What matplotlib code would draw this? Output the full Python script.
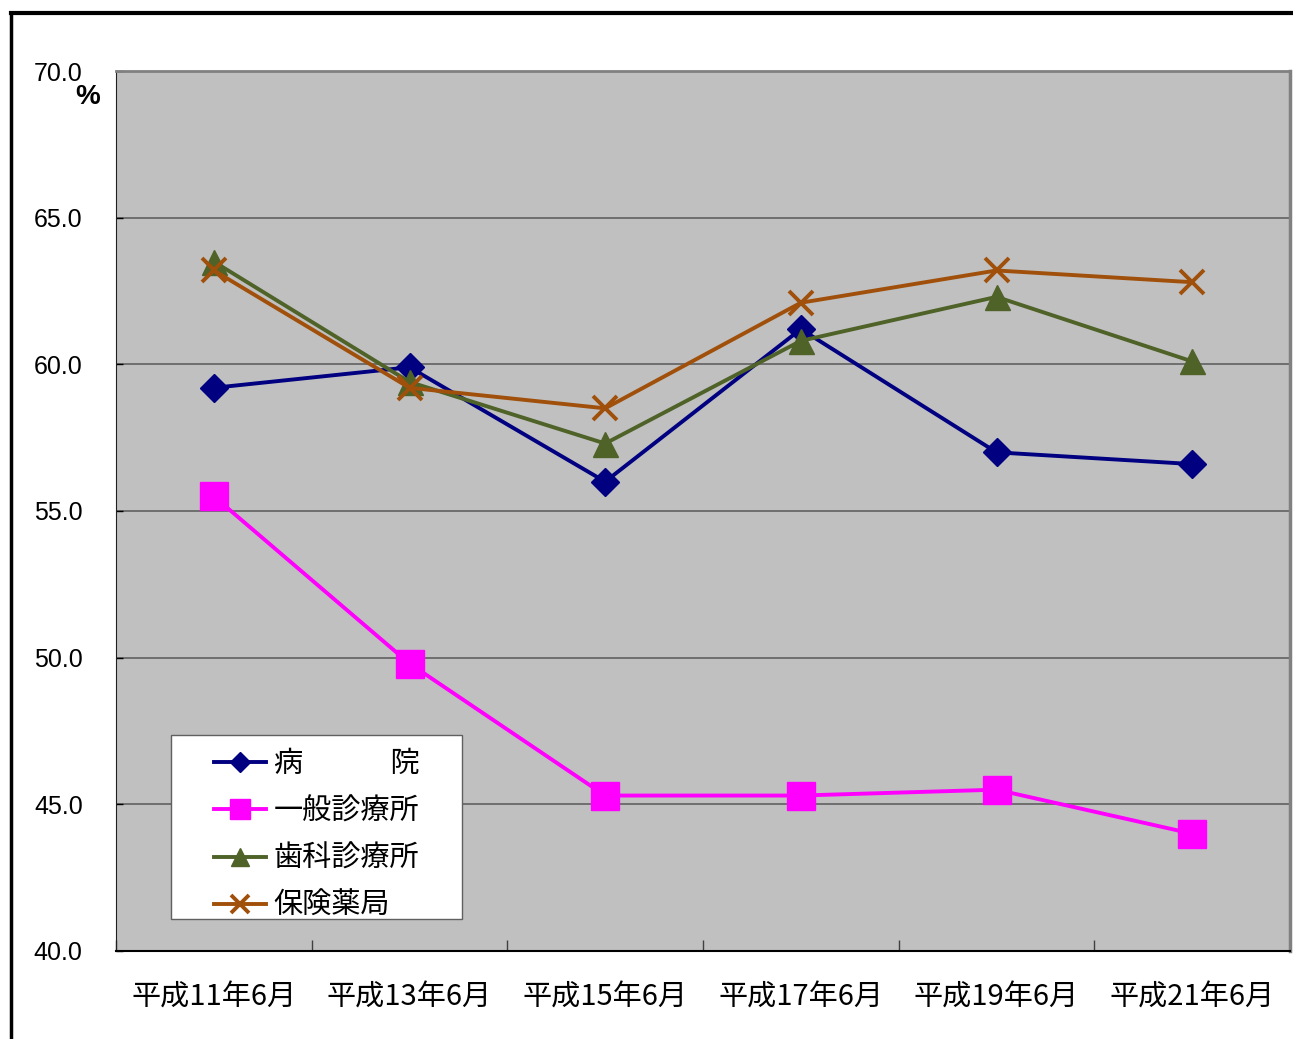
import numpy as np
import matplotlib
matplotlib.use("Agg")
import matplotlib.pyplot as plt
from matplotlib.lines import Line2D
from matplotlib.patches import Rectangle

plt.rcParams["font.family"] = ["Noto Sans CJK JP", "DejaVu Sans"]

periods = ["平成11年6月", "平成13年6月", "平成15年6月", "平成17年6月", "平成19年6月", "平成21年6月"]
hospital = [59.2, 59.9, 56.0, 61.2, 57.0, 56.6]
clinic = [55.5, 49.8, 45.3, 45.3, 45.5, 44.0]
dental = [63.5, 59.4, 57.3, 60.8, 62.3, 60.1]
pharmacy = [63.2, 59.2, 58.5, 62.1, 63.2, 62.8]
y_ticks = [40, 45, 50, 55, 60, 65, 70]

series = [
    ("病　　　院", hospital, "#000080", "D", 14, 10),
    ("一般診療所", clinic, "#FF00FF", "s", 20, 14),
    ("歯科診療所", dental, "#4F6228", "^", 18, 13),
    ("保険薬局", pharmacy, "#A0500A", "x", 17, 13),
]

W, H = 1293, 1039
fig = plt.figure(figsize=(12.93, 10.39), dpi=100)
ax = fig.add_axes([116 / W, 1 - 951 / H, (1290 - 116) / W, (951 - 71) / H])
ax.set_facecolor("#C0C0C0")

x = np.arange(len(periods))
for label, vals, color, marker, ms, _ in series:
    mew = 2.8 if marker == "x" else 1
    ax.plot(x, vals, color=color, lw=2.8, marker=marker, markersize=ms,
            markeredgecolor=color, markeredgewidth=mew, label=label, zorder=3)

ax.set_xlim(-0.5, len(periods) - 0.5)
ax.set_ylim(40, 70)
ax.set_yticks(y_ticks)
ax.set_yticklabels([f"{v:.1f}" for v in y_ticks], fontsize=18, family="Liberation Sans")
ax.tick_params(axis="y", direction="in", length=5, pad=24, width=1)

ax.set_xticks(x)
ax.set_xticklabels(periods, fontsize=21)
ax.tick_params(axis="x", length=0, pad=23)
ax.set_xticks(np.arange(len(periods) + 1) - 0.5, minor=True)
ax.tick_params(axis="x", which="minor", direction="in", length=8, width=1, color="#404040")

for v in y_ticks[1:-1]:
    ax.axhline(v, color="#606060", lw=1.2, zorder=1)

ax.spines["left"].set_color("#202020")
ax.spines["bottom"].set_color("black")
ax.spines["bottom"].set_linewidth(1.5)
ax.spines["top"].set_color("#808080")
ax.spines["top"].set_linewidth(2)
ax.spines["right"].set_color("#808080")
ax.spines["right"].set_linewidth(2.5)

fig.text(88 / W, 1 - 97 / H, "%", fontsize=20, fontweight="bold",
         ha="center", va="center", family="Liberation Sans")

# legend box
lx0, ly0, lx1, ly1 = 171, 735, 462, 919
def to_ax(px, py):
    return (px - 116) / 1174, (951 - py) / 880
bx0, by0 = to_ax(lx0, ly1)
bx1, by1 = to_ax(lx1, ly0)
ax.add_patch(Rectangle((bx0, by0), bx1 - bx0, by1 - by0, transform=ax.transAxes,
                       facecolor="white", edgecolor="#606060", lw=1, zorder=5))
cx, cy = to_ax((lx0 + lx1) / 2, (ly0 + ly1) / 2 + 8)
leg = ax.legend(loc="center", bbox_to_anchor=(cx, cy),
                fontsize=21, frameon=False, handlelength=1.8,
                labelspacing=0.6, borderpad=0, borderaxespad=0, handletextpad=0.25)
leg.set_zorder(6)
for h, s in zip(leg.legend_handles, series):
    h.set_markersize(s[5])

# outer frame (left and top only visible)
fig.add_artist(Line2D([11 / W, 11 / W], [0, 1 - 13 / H], color="black", lw=2.5))
fig.add_artist(Line2D([11 / W, 1], [1 - 13 / H, 1 - 13 / H], color="black", lw=3))

fig.savefig("out.png", dpi=100)
